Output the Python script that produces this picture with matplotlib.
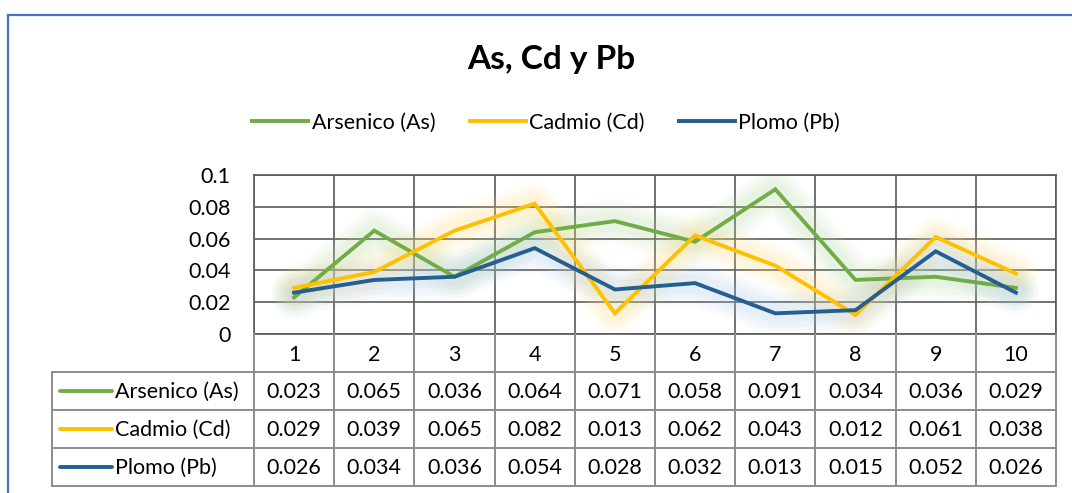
#!/usr/bin/env python3
"""Excel-style line chart with a data table: As, Cd y Pb"""
import matplotlib
matplotlib.use("Agg")
import matplotlib.pyplot as plt
from matplotlib.lines import Line2D

plt.rcParams['font.family'] = ['Lato', 'DejaVu Sans']

# data
categories = [1, 2, 3, 4, 5, 6, 7, 8, 9, 10]
series_names = ["Arsenico (As)", "Cadmio (Cd)", "Plomo (Pb)"]
arsenico = [0.023, 0.065, 0.036, 0.064, 0.071, 0.058, 0.091, 0.034, 0.036, 0.029]
cadmio = [0.029, 0.039, 0.065, 0.082, 0.013, 0.062, 0.043, 0.012, 0.061, 0.038]
plomo = [0.026, 0.034, 0.036, 0.054, 0.028, 0.032, 0.013, 0.015, 0.052, 0.026]
yticks = [0, 0.02, 0.04, 0.06, 0.08, 0.1]
ytick_labels = ["0", "0.02", "0.04", "0.06", "0.08", "0.1"]

colors = ["#70AD47", "#FFC000", "#255E91"]
glow = ["#B5D99C", "#FFE07A", "#A9C8E8"]
grid_c = "#595959"
table_c = "#8C8C8C"
FS = 15.5

W, H = 1072, 493


def fx(px):
    return px / W


def fy(py):
    return 1 - py / H


fig = plt.figure(figsize=(W / 100, H / 100), dpi=100)

# outer blue frame (top and left edges visible)
fig.add_artist(Line2D([fx(8), fx(8)], [fy(15), 0], color="#4472C4", lw=1.6))
fig.add_artist(Line2D([fx(8), 1], [fy(15), fy(15)], color="#4472C4", lw=1.6))

fig.text(fx(551), fy(60), "As, Cd y Pb", ha="center", va="center",
         fontsize=24, fontweight="bold")

# main plot
ax = fig.add_axes([fx(254), fy(334), fx(1056) - fx(254), fy(175) - fy(334)])
ax.set_xlim(0.5, 10.5)
ax.set_ylim(0, 0.1)
ax.set_yticks(yticks)
ax.set_yticklabels(ytick_labels, fontsize=FS)
ax.set_xticks([])
ax.set_xticks([c + 0.5 for c in [0] + categories], minor=True)
ax.tick_params(axis="y", length=0, pad=17)
ax.tick_params(axis="x", which="minor", length=0, labelbottom=False)
ax.grid(True, axis="y", color=grid_c, lw=1.2)
ax.grid(True, axis="x", which="minor", color=grid_c, lw=1.2)
ax.set_axisbelow(True)
for sp in ax.spines.values():
    sp.set_color(grid_c)
    sp.set_linewidth(1.2)

all_series = [arsenico, cadmio, plomo]
handles = []
# soft glow under each line
for vals, col, gc, name in zip(all_series, colors, glow, series_names):
    for lw, a in [(32, 0.06), (26, 0.07), (20, 0.08), (14, 0.09)]:
        ax.plot(categories, vals, color=gc, lw=lw, alpha=a,
                solid_joinstyle="round", solid_capstyle="round", zorder=2)
for vals, col, name in zip(all_series, colors, series_names):
    h, = ax.plot(categories, vals, color=col, lw=2.8,
                 solid_joinstyle="miter", zorder=3, label=name)
    handles.append(h)

fig.legend(handles=handles, loc="center", bbox_to_anchor=(fx(546), fy(123)),
           ncol=3, frameon=False, fontsize=FS, handlelength=2.6,
           handletextpad=0.15, columnspacing=1.6)

# data table below the plot, sharing the category scale
tax = fig.add_axes([fx(254), fy(486), fx(1056) - fx(254), fy(334) - fy(486)])
tax.set_xlim(0.5, 10.5)
tax.set_ylim(4, 0)
tax.axis("off")
unit = (1056 - 254) / 10
hx = 0.5 - (254 - 52) / unit
lkw = dict(color=table_c, lw=1.4, clip_on=False)
for r in [1, 2, 3, 4]:
    tax.plot([hx, 10.5], [r, r], **lkw)
for c in [0] + categories:
    tax.plot([c + 0.5, c + 0.5], [0, 4], **lkw)
tax.plot([hx, hx], [1, 4], **lkw)

for c in categories:
    tax.text(c, 0.55, str(c), ha="center", va="center", fontsize=FS)
key_x0 = hx + (60 - 52) / unit
key_x1 = hx + (112 - 52) / unit
for i, (vals, col, name) in enumerate(zip(all_series, colors, series_names)):
    row = i + 1.5
    tax.plot([key_x0, key_x1], [row, row], color=col, lw=2.8, clip_on=False,
             solid_capstyle="round")
    tax.text(key_x1 + 3 / unit, row + 0.03, name, ha="left", va="center",
             fontsize=FS)
    for c, v in zip(categories, vals):
        tax.text(c, row + 0.03, f"{v:.3f}", ha="center", va="center",
                 fontsize=FS)

fig.savefig("out.png", dpi=100)
plt.close(fig)
